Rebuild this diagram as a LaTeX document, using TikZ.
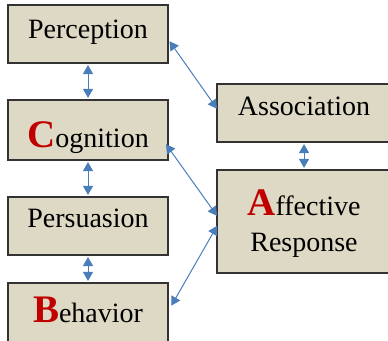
\documentclass[tikz,border=0pt]{standalone}
\usepackage{fontspec}
\setmainfont{Liberation Serif}
\usetikzlibrary{arrows.meta,calc}
\definecolor{abcTan}{HTML}{DDD9C4}
\definecolor{abcBlue}{HTML}{4A7EBB}
\definecolor{abcRed}{HTML}{C00000}
\newcommand{\initial}[1]{{\fontsize{39}{40}\selectfont\bfseries\color{abcRed}#1}}
% drop the baseline #1 below the middle of the box
\newcommand{\boxtext}[2]{\raisebox{-#1}[0pt][0pt]{#2}}

\begin{document}
\begin{tikzpicture}[x=1pt,y=1pt,
  box/.style={draw=black!80,line width=1.2pt,fill=abcTan,inner sep=0pt,
    minimum width=160pt,minimum height=58pt,
    font=\fontsize{28}{36}\selectfont},
  link/.style={abcBlue,line width=1pt,shorten <=1.5pt,shorten >=1.5pt,
    {Triangle[length=9pt,width=10pt]}-{Triangle[length=9pt,width=10pt]}}]
\useasboundingbox (0,0) rectangle (388,340);
% left column
\node[box] (percept) at (88,306) {\boxtext{5pt}{Perception}};
\node[box,minimum height=60pt] (cognit) at (88,210) {\boxtext{18pt}{\initial{C}ognition}};
\node[box] (persuas) at (88,114) {\boxtext{2pt}{Persuasion}};
\node[box,minimum height=60pt] (behav) at (88,27) {\boxtext{9pt}{\initial{B}ehavior}};
% right column
\node[box,minimum width=174pt] (assoc) at (304,227) {\boxtext{3pt}{Association}};
\node[box,minimum width=174pt,minimum height=103pt] (affect) at (304,118.5)
  {\boxtext{11pt}{\begin{tabular}{@{}c@{}}\initial{A}ffective\\Response\end{tabular}}};
% links
\draw[link] (percept.south) -- (cognit.north);
\draw[link] (cognit.south) -- (persuas.north);
\draw[link] (persuas.south) -- (behav.north);
\draw[link] (assoc.south) -- (affect.north);
\draw[link] ($(percept.east)+(0,-6)$) -- ($(assoc.west)+(1.5,3)$);
\draw[link] ($(cognit.east)+(-3.5,-13)$) -- ($(affect.west)+(1.5,4.5)$);
\draw[link] ($(behav.east)+(2,6)$) -- ($(affect.west)+(1.5,-3)$);
\end{tikzpicture}
\end{document}
